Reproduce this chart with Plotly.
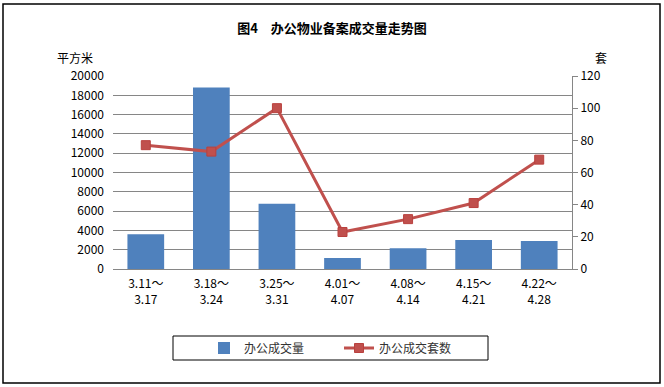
import plotly.graph_objects as go

categories = ["3.11～<br>3.17", "3.18～<br>3.24", "3.25～<br>3.31", "4.01～<br>4.07",
              "4.08～<br>4.14", "4.15～<br>4.21", "4.22～<br>4.28"]
area_values = [3600, 18800, 6750, 1150, 2150, 3000, 2900]
count_values = [77, 73, 100, 23, 31, 41, 68]
left_ticks = list(range(0, 20001, 2000))
right_ticks = list(range(0, 121, 20))

W, H = 664, 387
PL, PR, PT, PB = 113, 572, 76, 269

def px(x):
    return (x - PL) / (PR - PL)

def py(y):
    return (PB - y) / (PB - PT)

font_cjk = "SimSun, 'Noto Sans CJK SC', sans-serif"
grid = "#868686"

fig = go.Figure()
fig.add_trace(go.Bar(x=categories, y=area_values, name="办公成交量",
                     marker=dict(color="#4F81BD", line=dict(width=0))))
fig.add_trace(go.Scatter(x=categories, y=count_values, name="办公成交套数", yaxis="y2",
                         mode="lines+markers",
                         line=dict(color="#C0504D", width=3),
                         marker=dict(symbol="square", size=9, color="#C0504D",
                                     line=dict(color="#B9413E", width=1))))

fig.update_layout(
    width=W, height=H,
    margin=dict(l=PL, r=W - PR, t=PT, b=H - PB),
    paper_bgcolor="white", plot_bgcolor="white",
    font=dict(family=font_cjk, size=12, color="black"),
    bargap=0.44,
    showlegend=True,
    legend=dict(orientation="h", x=px(204), y=py(348), xanchor="left", yanchor="middle",
                bgcolor="rgba(0,0,0,0)", borderwidth=0, entrywidth=90,
                font=dict(size=12, color="#333")),
    xaxis=dict(showline=True, linecolor=grid, linewidth=1, ticks="", showgrid=False,
               tickfont=dict(size=12), fixedrange=True, ticklabelstandoff=4),
    yaxis=dict(range=[0, 20000], tickvals=left_ticks, ticktext=[str(v) for v in left_ticks],
               showgrid=True, gridcolor=grid,
               gridwidth=1, showline=False, ticks="", zeroline=False,
               ticklabelstandoff=8, tickfont=dict(size=12)),
    yaxis2=dict(range=[0, 120], tickvals=right_ticks, ticktext=[str(v) for v in right_ticks],
                overlaying="y", side="right",
                showgrid=False, showline=True, linecolor=grid, linewidth=1,
                ticks="outside", ticklen=5, tickcolor=grid, zeroline=False,
                tickfont=dict(size=12)),
    title=dict(text="<b>图4　办公物业备案成交量走势图</b>", x=0.5, xanchor="center",
               y=1 - 28 / H, yanchor="middle", font=dict(size=13, color="black")),
    shapes=[
        dict(type="rect", xref="paper", yref="paper", x0=px(3), x1=px(660),
             y0=py(4), y1=py(383), line=dict(color="black", width=1.5)),
        dict(type="rect", xref="paper", yref="paper", x0=px(173), x1=px(488),
             y0=py(336), y1=py(360), line=dict(color="black", width=1)),
    ],
    annotations=[
        dict(text="平方米", xref="paper", yref="paper", x=px(55), y=py(47),
             showarrow=False, font=dict(size=12)),
        dict(text="套", xref="paper", yref="paper", x=px(609), y=py(47),
             showarrow=False, font=dict(size=12)),
    ],
)

fig.write_html("out.html", config={"displayModeBar": False},
               post_script="document.body.style.margin='0';document.body.style.overflow='hidden';")
